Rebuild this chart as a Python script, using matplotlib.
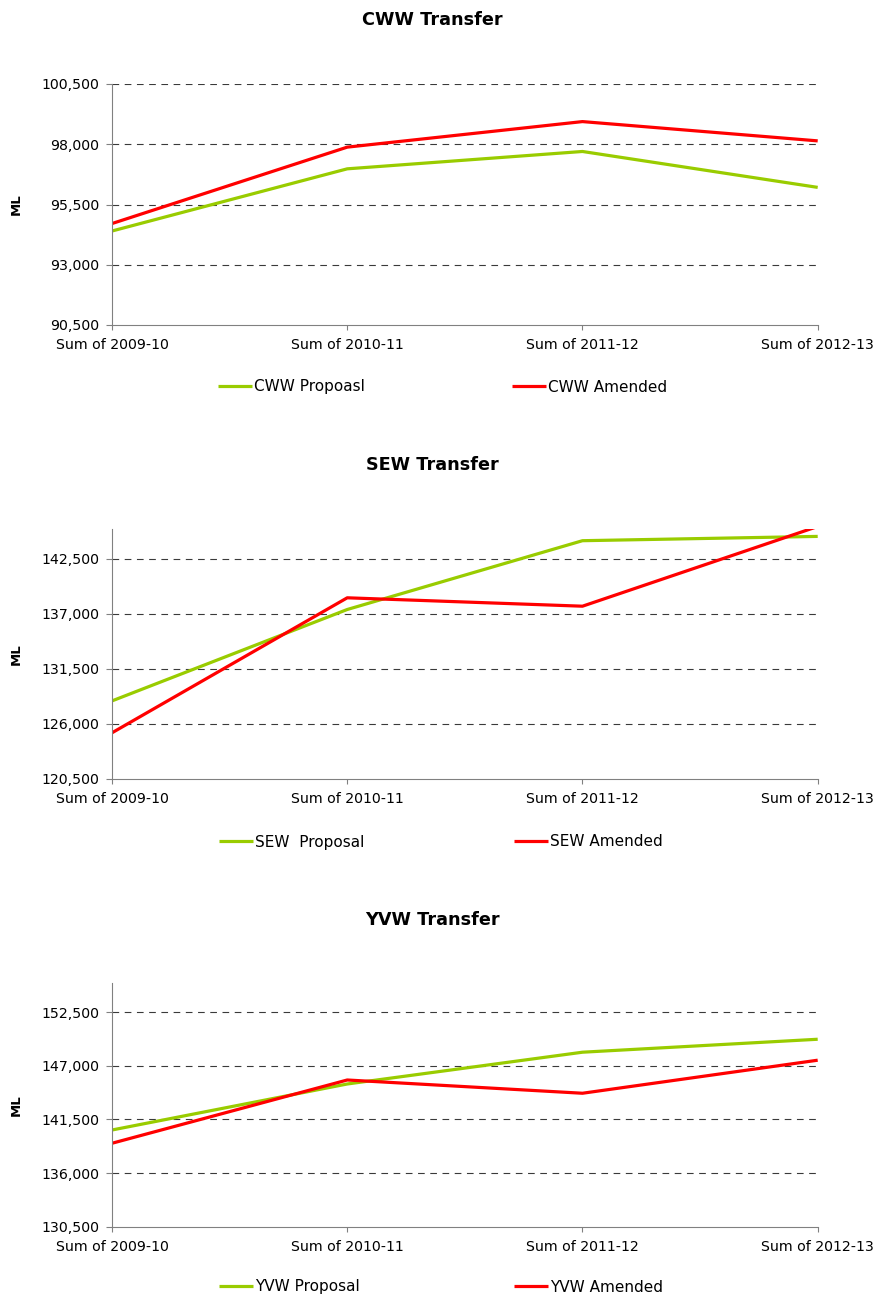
import matplotlib
matplotlib.use("Agg")
import matplotlib.pyplot as plt
from matplotlib.ticker import FuncFormatter, FixedLocator

plt.rcParams['font.family'] = ['DejaVu Sans']

categories = ["Sum of 2009-10", "Sum of 2010-11", "Sum of 2011-12", "Sum of 2012-13"]

cww_proposal = [94400, 96980, 97700, 96210]
cww_amended = [94710, 97880, 98940, 98140]
sew_proposal = [128310, 137450, 144330, 144760]
sew_amended = [125120, 138620, 137780, 145750]
yvw_proposal = [140420, 145140, 148400, 149730]
yvw_amended = [139060, 145550, 144190, 147580]

titles = ["CWW Transfer", "SEW Transfer", "YVW Transfer"]
legend_labels = [("CWW Propoasl", "CWW Amended"),
                 ("SEW  Proposal", "SEW Amended"),
                 ("YVW Proposal", "YVW Amended")]
y_ticks = [[90500, 93000, 95500, 98000, 100500],
           [120500, 126000, 131500, 137000, 142500],
           [130500, 136000, 141500, 147000, 152500]]
y_limits = [(90500, 100500), (120500, 145500), (130500, 155500)]
series = [(cww_proposal, cww_amended), (sew_proposal, sew_amended), (yvw_proposal, yvw_amended)]

W, H = 875, 1294
fig = plt.figure(figsize=(W / 100, H / 100), dpi=100)

# axes boxes in pixels: (left, top, right, bottom)
boxes = [(112, 84, 817.7, 325), (112, 529, 817.7, 779), (112, 983, 817.7, 1226.7)]
title_y = [20, 465, 920]
legend_y = [387, 842, 1287]
legend_x = [(218, 512), (219, 514), (219, 514)]

green = '#99CC00'
red = '#FF0000'
x = list(range(len(categories)))

for i in range(3):
    l, t, r, b = boxes[i]
    ax = fig.add_axes([l / W, 1 - b / H, (r - l) / W, (b - t) / H])
    gp, rd = series[i]
    lg, = ax.plot(x, gp, color=green, lw=2.3, solid_capstyle='butt')
    lr, = ax.plot(x, rd, color=red, lw=2.3, solid_capstyle='butt')
    ax.set_xlim(0, len(categories) - 1)
    ax.set_ylim(*y_limits[i])
    ax.yaxis.set_major_locator(FixedLocator(y_ticks[i]))
    ax.yaxis.set_major_formatter(FuncFormatter(lambda v, p: f"{int(round(v)):,}"))
    ax.set_xticks(x)
    ax.set_xticklabels(categories)
    for yt in y_ticks[i][1:]:
        ax.axhline(yt, color='#3a3a3a', lw=0.8, ls=(0, (6, 5)), zorder=0.5)
    ax.spines['top'].set_visible(False)
    ax.spines['right'].set_visible(False)
    ax.spines['left'].set_color('#808080')
    ax.spines['bottom'].set_color('#808080')
    ax.tick_params(axis='y', direction='out', length=4.5, width=0.8, color='#808080',
                   labelsize=10.2, pad=4.8, labelcolor='black')
    ax.tick_params(axis='x', direction='out', length=3.5, width=0.8, color='#808080',
                   labelsize=10.2, pad=6, labelcolor='black')
    ax.set_ylabel("ML", fontsize=9.5, fontweight='bold')
    ax.yaxis.set_label_coords((23 - l) / (r - l), 0.5)
    fig.text(432 / W, 1 - title_y[i] / H, titles[i], ha='center', va='center',
             fontsize=12.7, fontweight='bold')
    for handle, lab, lx in zip((lg, lr), legend_labels[i], legend_x[i]):
        fig.legend(handles=[handle], labels=[lab], loc='center left',
                   bbox_to_anchor=(lx / W, 1 - legend_y[i] / H), frameon=False,
                   fontsize=11, handlelength=2.2, handletextpad=0.15,
                   borderpad=0, borderaxespad=0)

fig.savefig("out.png", dpi=100)
